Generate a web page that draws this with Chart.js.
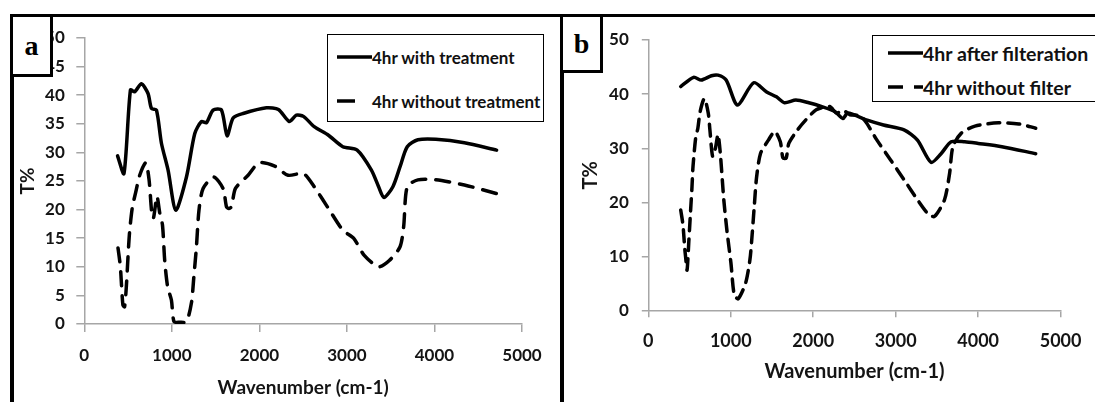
<!DOCTYPE html>
<html>
<head>
<meta charset="utf-8">
<script src="https://cdn.jsdelivr.net/npm/chart.js@4.4.1/dist/chart.umd.min.js"></script>
<style>
    html, body { margin: 0; padding: 0; background: #fff; }
    #page { position: relative; width: 1095px; height: 402px; overflow: hidden; font-family: Lato, 'Open Sans', sans-serif; }
    canvas { position: absolute; top: 0; }
    #chart-a { left: 0; }
    #chart-b { left: 556px; }
    .rule { position: absolute; background: #000; }
    .tag { position: absolute; box-sizing: border-box; background: #fff; border: 3px solid #000;
           font-family: 'Liberation Serif', serif; font-weight: bold; font-size: 28px;
           display: flex; align-items: center; justify-content: center; }
    .legend { position: absolute; box-sizing: border-box; background: #fff; border: 1.5px solid #000; }
    .legend-item { position: absolute; display: flex; align-items: center; height: 20px;
                   font-weight: bold; font-size: 17px; color: #111; white-space: nowrap; }
    #legend-b .legend-item { font-size: 19.5px; }
    .legend-item svg { display: block; }
</style>
</head>
<body>
<div id="page">
    <canvas id="chart-a" width="556" height="402"></canvas>
    <canvas id="chart-b" width="539" height="402"></canvas>

    <div class="rule" style="left:10px;top:14px;width:1085px;height:3px"></div>
    <div class="rule" style="left:10px;top:14px;width:4px;height:388px"></div>
    <div class="rule" style="left:560px;top:14px;width:4px;height:388px"></div>

    <div class="tag" style="left:10px;top:14px;width:43px;height:63px">a</div>
    <div class="tag" style="left:560px;top:14px;width:43px;height:59px">b</div>

    <div class="legend" id="legend-a" style="left:327px;top:34px;width:217px;height:88px"></div>
    <div class="legend" id="legend-b" style="left:872px;top:35px;width:300px;height:67px"></div>
</div>

<script>
// ---- Data --------------------------------------------------------------
const X_TICKS = [0, 1000, 2000, 3000, 4000, 5000];

// panel a
const treatedX = [380, 453, 527, 576, 652, 728, 767, 824, 881, 957, 1045, 1167, 1262, 1338, 1395, 1471, 1567, 1631, 1700, 1814, 2081, 2218, 2341, 2422, 2503, 2626, 2789, 2953, 3117, 3280, 3362, 3423, 3525, 3607, 3689, 3811, 4015, 4342, 4710];
const treatedY = [29.4, 26.3, 40.9, 40.6, 42.0, 40.3, 37.7, 37.4, 31.6, 26.9, 19.9, 25.7, 33.3, 35.4, 35.2, 37.4, 37.4, 32.9, 36.0, 36.8, 37.8, 37.5, 35.4, 36.5, 36.3, 34.5, 33.0, 31.0, 30.4, 26.9, 24.0, 22.1, 24.0, 27.5, 31.0, 32.2, 32.3, 31.7, 30.4];

const untreatedX = [385, 412, 441, 460, 480, 505, 519, 550, 587, 633, 702, 740, 770, 790, 830, 862, 893, 919, 952, 995, 1025, 1090, 1167, 1224, 1250, 1281, 1310, 1357, 1479, 1585, 1624, 1650, 1681, 1727, 1871, 1997, 2176, 2328, 2503, 2626, 2789, 2953, 3076, 3198, 3362, 3484, 3607, 3648, 3689, 3811, 4015, 4342, 4710];
const untreatedY = [13.3, 10.0, 3.3, 3.0, 6.5, 13.3, 16.4, 20.5, 23.0, 26.0, 28.2, 25.2, 19.5, 18.5, 22.3, 19.4, 17.3, 11.0, 6.5, 4.2, 0.4, 0.3, 0.4, 3.7, 8.0, 13.5, 19.9, 23.7, 25.7, 23.7, 20.5, 20.2, 20.5, 23.7, 26.0, 28.2, 27.6, 26.0, 26.3, 24.0, 20.2, 16.4, 15.0, 12.0, 10.0, 11.1, 13.5, 17.0, 24.0, 25.2, 25.2, 24.3, 22.8];

// panel b
const filteredX = [393, 550, 643, 766, 845, 944, 1081, 1278, 1435, 1554, 1652, 1790, 1947, 2105, 2262, 2360, 2419, 2655, 2852, 3101, 3264, 3428, 3550, 3673, 3838, 4001, 4288, 4698];
const filteredY = [41.4, 43.1, 42.6, 43.4, 43.5, 42.6, 38.0, 42.1, 40.4, 39.5, 38.4, 38.9, 38.4, 37.7, 36.8, 35.5, 36.5, 35.2, 34.3, 33.4, 31.5, 27.4, 29.0, 31.2, 31.2, 30.9, 30.3, 29.0];

const unfilteredX = [393, 420, 442, 452, 470, 491, 511, 530, 542, 575, 601, 629, 680, 727, 747, 780, 814, 845, 873, 916, 955, 1002, 1042, 1090, 1180, 1233, 1259, 1286, 1312, 1360, 1456, 1534, 1601, 1633, 1672, 1704, 1810, 1908, 2036, 2199, 2282, 2364, 2445, 2568, 2650, 2773, 2936, 3101, 3264, 3387, 3469, 3592, 3654, 3694, 3796, 3961, 4247, 4493, 4698];
const unfilteredY = [18.6, 15.9, 11.5, 10.0, 7.5, 12.7, 18.0, 22.9, 26.6, 32.0, 33.7, 36.8, 39.2, 36.5, 33.4, 28.5, 30.0, 32.5, 29.1, 20.4, 14.6, 8.8, 2.9, 2.2, 5.1, 9.5, 14.0, 19.5, 24.5, 29.0, 31.5, 33.1, 31.2, 28.2, 28.2, 30.9, 33.4, 35.2, 37.1, 37.7, 36.5, 37.0, 36.2, 36.0, 34.6, 31.5, 27.9, 24.2, 20.5, 18.0, 17.4, 20.5, 25.4, 30.3, 32.8, 34.1, 34.7, 34.5, 33.7];

// ---- Helpers -------------------------------------------------------------
const AXIS_GREY = '#a6a6a6';
const INK = '#141414';

function toPoints(xs, ys) {
    return xs.map((x, i) => ({ x, y: ys[i] }));
}

function spectrum(label, xs, ys, dash) {
    return {
        label,
        data: toPoints(xs, ys),
        borderColor: '#000',
        borderWidth: 3.5,
        borderDash: dash,
        borderCapStyle: 'round',
        borderJoinStyle: 'round',
        pointRadius: 0,
        tension: 0.25,
        fill: false,
    };
}

// box = where the plot area must land inside the canvas
function makeChart(id, datasets, box, yStep) {
    const ctx = document.getElementById(id).getContext('2d');
    const tickFont = { family: 'Lato', weight: 'bold', size: box.tickSize };
    const titleFont = { family: 'Lato', weight: 'bold', size: box.titleSize };
    return new Chart(ctx, {
        type: 'line',
        data: { datasets },
        options: {
            responsive: false,
            animation: false,
            layout: { padding: { left: box.padLeft, top: box.top, right: box.padRight, bottom: 0 } },
            plugins: { legend: { display: false }, tooltip: { enabled: false } },
            scales: {
                x: {
                    type: 'linear',
                    min: 0, max: 5000,
                    afterBuildTicks: s => { s.ticks = X_TICKS.map(v => ({ value: v })); },
                    afterFit: s => { s.height = box.xHeight; },
                    grid: { drawOnChartArea: false, drawTicks: true, tickLength: box.tick, color: AXIS_GREY, lineWidth: 1.5 },
                    border: { color: AXIS_GREY, width: 1.5 },
                    ticks: { color: INK, padding: box.xPad, maxRotation: 0, font: { ...tickFont, size: box.xTickSize }, callback: v => String(v) },
                    title: {
                        display: true, text: 'Wavenumber (cm-1)', color: INK,
                        padding: { top: 0, bottom: box.titlePad },
                        font: titleFont,
                    },
                },
                y: {
                    min: 0, max: 50,
                    afterFit: s => { s.width = box.yWidth; },
                    grid: { drawOnChartArea: false, drawTicks: true, tickLength: box.tick, color: AXIS_GREY, lineWidth: 1.5 },
                    border: { color: AXIS_GREY, width: 1.5 },
                    ticks: { stepSize: yStep, color: INK, padding: box.yPad, font: tickFont, callback: v => String(v) },
                    title: {
                        display: true, text: 'T%', color: INK,
                        padding: { top: 0, bottom: 0 },
                        font: titleFont,
                    },
                },
            },
        },
    });
}

// ---- HTML legend built from the chart's datasets -------------------------
function buildLegend(chart, el, rows, sampleDash) {
    const boxLeft = parseFloat(el.style.left), boxTop = parseFloat(el.style.top);
    chart.data.datasets.forEach((ds, i) => {
        const item = document.createElement('div');
        item.className = 'legend-item';
        item.style.left = (rows.left - boxLeft) + 'px';
        item.style.top = (rows.centers[i] - 10 - boxTop) + 'px';
        const dash = ds.borderDash ? sampleDash : 'none';
        item.innerHTML = `<svg width="35" height="6"><line x1="0" y1="3" x2="35" y2="3" stroke="#000" stroke-width="3.5" stroke-dasharray="${dash}"/></svg><span>${ds.label}</span>`;
        el.appendChild(item);
    });
}

const chartA = makeChart('chart-a', [
    spectrum('4hr with treatment', treatedX, treatedY),
    spectrum('4hr without treatment', untreatedX, untreatedY, [14, 10]),
], { padLeft: 16, padRight: 34, top: 38, yWidth: 68.3, xHeight: 78, tick: 8, xPad: 13.5, yPad: 11.5,
     titlePad: 3, tickSize: 17, xTickSize: 17, titleSize: 19 }, 5);

const chartB = makeChart('chart-b', [
    spectrum('4hr after filteration', filteredX, filteredY),
    spectrum('4hr without filter', unfilteredX, unfilteredY, [12, 8]),
], { padLeft: 23, padRight: 23, top: 40, yWidth: 69.3, xHeight: 91.3, tick: 6.5, xPad: 13.5, yPad: 13,
     titlePad: 18.5, tickSize: 17, xTickSize: 18, titleSize: 20 }, 10);

buildLegend(chartA, document.getElementById('legend-a'), { left: 336, centers: [56, 100] }, '18 40');
buildLegend(chartB, document.getElementById('legend-b'), { left: 887, centers: [52, 86] }, '15 11');
</script>
</body>
</html>
